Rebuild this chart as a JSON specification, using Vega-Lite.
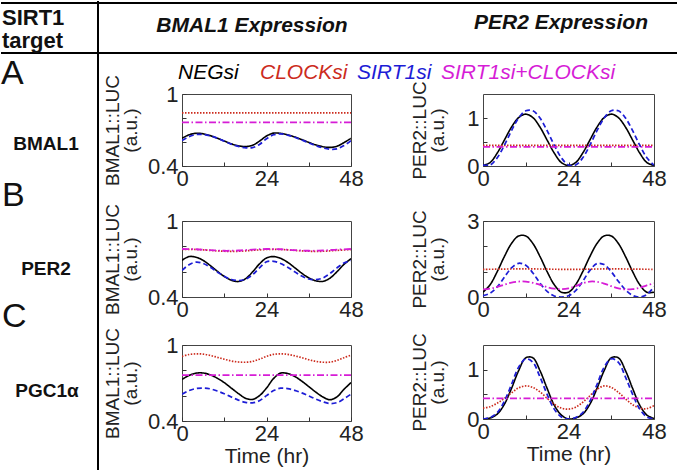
{
  "$schema": "https://vega.github.io/schema/vega-lite/v6.json",
  "padding": 0,
  "config": {
    "font": "Liberation Sans",
    "view": {"stroke": null},
    "axis": {"grid": false, "domain": false, "tickSize": -4, "tickColor": "#333", "tickWidth": 1, "labelFontSize": 22, "labelColor": "#222", "labelFlush": false, "labelOverlap": false, "titleFontSize": 19, "titleFontWeight": "normal", "titleColor": "#222", "titleLineHeight": 18},
    "axisX": {"labelPadding": 6},
    "axisY": {"labelPadding": 8}
  },
  "datasets": {
    "AL": [
      {"s":"NEGsi","t":0,"v":0.631},{"s":"NEGsi","t":2,"v":0.660},{"s":"NEGsi","t":4,"v":0.673},{"s":"NEGsi","t":6,"v":0.668},{"s":"NEGsi","t":8,"v":0.653},{"s":"NEGsi","t":10,"v":0.632},{"s":"NEGsi","t":12,"v":0.608},{"s":"NEGsi","t":14,"v":0.585},{"s":"NEGsi","t":16,"v":0.568},{"s":"NEGsi","t":18,"v":0.562},{"s":"NEGsi","t":20,"v":0.572},{"s":"NEGsi","t":22,"v":0.607},{"s":"NEGsi","t":24,"v":0.650},{"s":"NEGsi","t":26,"v":0.674},{"s":"NEGsi","t":28,"v":0.672},{"s":"NEGsi","t":30,"v":0.660},{"s":"NEGsi","t":32,"v":0.642},{"s":"NEGsi","t":34,"v":0.620},{"s":"NEGsi","t":36,"v":0.597},{"s":"NEGsi","t":38,"v":0.576},{"s":"NEGsi","t":40,"v":0.561},{"s":"NEGsi","t":42,"v":0.555},{"s":"NEGsi","t":44,"v":0.565},{"s":"NEGsi","t":46,"v":0.595},{"s":"NEGsi","t":48,"v":0.631},
      {"s":"CLOCKsi","t":0,"v":0.843},{"s":"CLOCKsi","t":48,"v":0.843},
      {"s":"SIRT1si","t":0,"v":0.612},{"s":"SIRT1si","t":2,"v":0.645},{"s":"SIRT1si","t":4,"v":0.662},{"s":"SIRT1si","t":6,"v":0.663},{"s":"SIRT1si","t":8,"v":0.652},{"s":"SIRT1si","t":10,"v":0.632},{"s":"SIRT1si","t":12,"v":0.607},{"s":"SIRT1si","t":14,"v":0.582},{"s":"SIRT1si","t":16,"v":0.563},{"s":"SIRT1si","t":18,"v":0.552},{"s":"SIRT1si","t":20,"v":0.553},{"s":"SIRT1si","t":22,"v":0.580},{"s":"SIRT1si","t":24,"v":0.627},{"s":"SIRT1si","t":26,"v":0.660},{"s":"SIRT1si","t":28,"v":0.667},{"s":"SIRT1si","t":30,"v":0.658},{"s":"SIRT1si","t":32,"v":0.640},{"s":"SIRT1si","t":34,"v":0.617},{"s":"SIRT1si","t":36,"v":0.593},{"s":"SIRT1si","t":38,"v":0.570},{"s":"SIRT1si","t":40,"v":0.551},{"s":"SIRT1si","t":42,"v":0.540},{"s":"SIRT1si","t":44,"v":0.543},{"s":"SIRT1si","t":46,"v":0.570},{"s":"SIRT1si","t":48,"v":0.612},
      {"s":"SIRT1si+CLOCKsi","t":0,"v":0.764},{"s":"SIRT1si+CLOCKsi","t":48,"v":0.764}
    ],
    "AR": [
      {"s":"NEGsi","t":0,"v":0.01},{"s":"NEGsi","t":2,"v":0.072},{"s":"NEGsi","t":4,"v":0.27},{"s":"NEGsi","t":6,"v":0.54},{"s":"NEGsi","t":8,"v":0.81},{"s":"NEGsi","t":10,"v":1.008},{"s":"NEGsi","t":12,"v":1.08},{"s":"NEGsi","t":14,"v":1.008},{"s":"NEGsi","t":16,"v":0.81},{"s":"NEGsi","t":18,"v":0.54},{"s":"NEGsi","t":20,"v":0.27},{"s":"NEGsi","t":22,"v":0.072},{"s":"NEGsi","t":24,"v":0.01},{"s":"NEGsi","t":26,"v":0.072},{"s":"NEGsi","t":28,"v":0.27},{"s":"NEGsi","t":30,"v":0.54},{"s":"NEGsi","t":32,"v":0.81},{"s":"NEGsi","t":34,"v":1.008},{"s":"NEGsi","t":36,"v":1.08},{"s":"NEGsi","t":38,"v":1.008},{"s":"NEGsi","t":40,"v":0.81},{"s":"NEGsi","t":42,"v":0.54},{"s":"NEGsi","t":44,"v":0.27},{"s":"NEGsi","t":46,"v":0.072},{"s":"NEGsi","t":48,"v":0.01},
      {"s":"CLOCKsi","t":0,"v":0.43},{"s":"CLOCKsi","t":48,"v":0.43},
      {"s":"SIRT1si","t":0,"v":0.02},{"s":"SIRT1si","t":2,"v":0.02},{"s":"SIRT1si","t":4,"v":0.171},{"s":"SIRT1si","t":6,"v":0.433},{"s":"SIRT1si","t":8,"v":0.736},{"s":"SIRT1si","t":10,"v":0.999},{"s":"SIRT1si","t":12,"v":1.15},{"s":"SIRT1si","t":14,"v":1.15},{"s":"SIRT1si","t":16,"v":0.999},{"s":"SIRT1si","t":18,"v":0.736},{"s":"SIRT1si","t":20,"v":0.433},{"s":"SIRT1si","t":22,"v":0.171},{"s":"SIRT1si","t":24,"v":0.02},{"s":"SIRT1si","t":26,"v":0.02},{"s":"SIRT1si","t":28,"v":0.171},{"s":"SIRT1si","t":30,"v":0.433},{"s":"SIRT1si","t":32,"v":0.736},{"s":"SIRT1si","t":34,"v":0.999},{"s":"SIRT1si","t":36,"v":1.15},{"s":"SIRT1si","t":38,"v":1.15},{"s":"SIRT1si","t":40,"v":0.999},{"s":"SIRT1si","t":42,"v":0.736},{"s":"SIRT1si","t":44,"v":0.433},{"s":"SIRT1si","t":46,"v":0.171},{"s":"SIRT1si","t":48,"v":0.02},
      {"s":"SIRT1si+CLOCKsi","t":0,"v":0.40},{"s":"SIRT1si+CLOCKsi","t":48,"v":0.40}
    ],
    "BL": [
      {"s":"NEGsi","t":0,"v":0.690},{"s":"NEGsi","t":2,"v":0.719},{"s":"NEGsi","t":4,"v":0.714},{"s":"NEGsi","t":6,"v":0.689},{"s":"NEGsi","t":8,"v":0.649},{"s":"NEGsi","t":10,"v":0.604},{"s":"NEGsi","t":12,"v":0.562},{"s":"NEGsi","t":14,"v":0.533},{"s":"NEGsi","t":16,"v":0.522},{"s":"NEGsi","t":18,"v":0.543},{"s":"NEGsi","t":20,"v":0.597},{"s":"NEGsi","t":22,"v":0.661},{"s":"NEGsi","t":24,"v":0.708},{"s":"NEGsi","t":26,"v":0.719},{"s":"NEGsi","t":28,"v":0.705},{"s":"NEGsi","t":30,"v":0.674},{"s":"NEGsi","t":32,"v":0.632},{"s":"NEGsi","t":34,"v":0.588},{"s":"NEGsi","t":36,"v":0.551},{"s":"NEGsi","t":38,"v":0.528},{"s":"NEGsi","t":40,"v":0.523},{"s":"NEGsi","t":42,"v":0.548},{"s":"NEGsi","t":44,"v":0.599},{"s":"NEGsi","t":46,"v":0.657},{"s":"NEGsi","t":48,"v":0.703},
      {"s":"CLOCKsi","t":0,"v":0.775},{"s":"CLOCKsi","t":4,"v":0.775},{"s":"CLOCKsi","t":8,"v":0.768},{"s":"CLOCKsi","t":12,"v":0.761},{"s":"CLOCKsi","t":16,"v":0.761},{"s":"CLOCKsi","t":20,"v":0.768},{"s":"CLOCKsi","t":24,"v":0.775},{"s":"CLOCKsi","t":28,"v":0.775},{"s":"CLOCKsi","t":32,"v":0.768},{"s":"CLOCKsi","t":36,"v":0.761},{"s":"CLOCKsi","t":40,"v":0.761},{"s":"CLOCKsi","t":44,"v":0.768},{"s":"CLOCKsi","t":48,"v":0.775},
      {"s":"SIRT1si","t":0,"v":0.610},{"s":"SIRT1si","t":2,"v":0.655},{"s":"SIRT1si","t":4,"v":0.675},{"s":"SIRT1si","t":6,"v":0.665},{"s":"SIRT1si","t":8,"v":0.635},{"s":"SIRT1si","t":10,"v":0.598},{"s":"SIRT1si","t":12,"v":0.563},{"s":"SIRT1si","t":14,"v":0.538},{"s":"SIRT1si","t":16,"v":0.530},{"s":"SIRT1si","t":18,"v":0.540},{"s":"SIRT1si","t":20,"v":0.575},{"s":"SIRT1si","t":22,"v":0.630},{"s":"SIRT1si","t":24,"v":0.678},{"s":"SIRT1si","t":26,"v":0.682},{"s":"SIRT1si","t":28,"v":0.665},{"s":"SIRT1si","t":30,"v":0.635},{"s":"SIRT1si","t":32,"v":0.600},{"s":"SIRT1si","t":34,"v":0.565},{"s":"SIRT1si","t":36,"v":0.542},{"s":"SIRT1si","t":38,"v":0.537},{"s":"SIRT1si","t":40,"v":0.550},{"s":"SIRT1si","t":42,"v":0.585},{"s":"SIRT1si","t":44,"v":0.630},{"s":"SIRT1si","t":46,"v":0.668},{"s":"SIRT1si","t":48,"v":0.688},
      {"s":"SIRT1si+CLOCKsi","t":0,"v":0.779},{"s":"SIRT1si+CLOCKsi","t":4,"v":0.777},{"s":"SIRT1si+CLOCKsi","t":8,"v":0.770},{"s":"SIRT1si+CLOCKsi","t":12,"v":0.765},{"s":"SIRT1si+CLOCKsi","t":16,"v":0.767},{"s":"SIRT1si+CLOCKsi","t":20,"v":0.774},{"s":"SIRT1si+CLOCKsi","t":24,"v":0.779},{"s":"SIRT1si+CLOCKsi","t":28,"v":0.777},{"s":"SIRT1si+CLOCKsi","t":32,"v":0.770},{"s":"SIRT1si+CLOCKsi","t":36,"v":0.765},{"s":"SIRT1si+CLOCKsi","t":40,"v":0.767},{"s":"SIRT1si+CLOCKsi","t":44,"v":0.774},{"s":"SIRT1si+CLOCKsi","t":48,"v":0.779}
    ],
    "BR": [
      {"s":"NEGsi","t":0,"v":0.189},{"s":"NEGsi","t":2,"v":0.487},{"s":"NEGsi","t":4,"v":1.002},{"s":"NEGsi","t":6,"v":1.598},{"s":"NEGsi","t":8,"v":2.113},{"s":"NEGsi","t":10,"v":2.411},{"s":"NEGsi","t":12,"v":2.411},{"s":"NEGsi","t":14,"v":2.113},{"s":"NEGsi","t":16,"v":1.598},{"s":"NEGsi","t":18,"v":1.002},{"s":"NEGsi","t":20,"v":0.487},{"s":"NEGsi","t":22,"v":0.189},{"s":"NEGsi","t":24,"v":0.189},{"s":"NEGsi","t":26,"v":0.487},{"s":"NEGsi","t":28,"v":1.002},{"s":"NEGsi","t":30,"v":1.598},{"s":"NEGsi","t":32,"v":2.113},{"s":"NEGsi","t":34,"v":2.411},{"s":"NEGsi","t":36,"v":2.411},{"s":"NEGsi","t":38,"v":2.113},{"s":"NEGsi","t":40,"v":1.598},{"s":"NEGsi","t":42,"v":1.002},{"s":"NEGsi","t":44,"v":0.487},{"s":"NEGsi","t":46,"v":0.189},{"s":"NEGsi","t":48,"v":0.189},
      {"s":"CLOCKsi","t":0,"v":1.09},{"s":"CLOCKsi","t":12,"v":1.11},{"s":"CLOCKsi","t":24,"v":1.09},{"s":"CLOCKsi","t":36,"v":1.11},{"s":"CLOCKsi","t":48,"v":1.09},
      {"s":"SIRT1si","t":0,"v":0.05},{"s":"SIRT1si","t":2,"v":0.15},{"s":"SIRT1si","t":4,"v":0.40},{"s":"SIRT1si","t":6,"v":0.78},{"s":"SIRT1si","t":8,"v":1.15},{"s":"SIRT1si","t":10,"v":1.33},{"s":"SIRT1si","t":12,"v":1.25},{"s":"SIRT1si","t":14,"v":0.95},{"s":"SIRT1si","t":16,"v":0.55},{"s":"SIRT1si","t":18,"v":0.22},{"s":"SIRT1si","t":20,"v":0.04},{"s":"SIRT1si","t":22,"v":0.0},{"s":"SIRT1si","t":24,"v":0.05},{"s":"SIRT1si","t":26,"v":0.25},{"s":"SIRT1si","t":28,"v":0.62},{"s":"SIRT1si","t":30,"v":1.05},{"s":"SIRT1si","t":32,"v":1.32},{"s":"SIRT1si","t":34,"v":1.28},{"s":"SIRT1si","t":36,"v":1.0},{"s":"SIRT1si","t":38,"v":0.62},{"s":"SIRT1si","t":40,"v":0.28},{"s":"SIRT1si","t":42,"v":0.06},{"s":"SIRT1si","t":44,"v":0.0},{"s":"SIRT1si","t":46,"v":0.10},{"s":"SIRT1si","t":48,"v":0.40},
      {"s":"SIRT1si+CLOCKsi","t":0,"v":0.30},{"s":"SIRT1si+CLOCKsi","t":2,"v":0.33},{"s":"SIRT1si+CLOCKsi","t":4,"v":0.40},{"s":"SIRT1si+CLOCKsi","t":6,"v":0.49},{"s":"SIRT1si+CLOCKsi","t":8,"v":0.57},{"s":"SIRT1si+CLOCKsi","t":10,"v":0.61},{"s":"SIRT1si+CLOCKsi","t":12,"v":0.61},{"s":"SIRT1si+CLOCKsi","t":14,"v":0.56},{"s":"SIRT1si+CLOCKsi","t":16,"v":0.48},{"s":"SIRT1si+CLOCKsi","t":18,"v":0.39},{"s":"SIRT1si+CLOCKsi","t":20,"v":0.33},{"s":"SIRT1si+CLOCKsi","t":22,"v":0.31},{"s":"SIRT1si+CLOCKsi","t":24,"v":0.34},{"s":"SIRT1si+CLOCKsi","t":26,"v":0.43},{"s":"SIRT1si+CLOCKsi","t":28,"v":0.54},{"s":"SIRT1si+CLOCKsi","t":30,"v":0.61},{"s":"SIRT1si+CLOCKsi","t":32,"v":0.60},{"s":"SIRT1si+CLOCKsi","t":34,"v":0.53},{"s":"SIRT1si+CLOCKsi","t":36,"v":0.43},{"s":"SIRT1si+CLOCKsi","t":38,"v":0.34},{"s":"SIRT1si+CLOCKsi","t":40,"v":0.30},{"s":"SIRT1si+CLOCKsi","t":42,"v":0.31},{"s":"SIRT1si+CLOCKsi","t":44,"v":0.37},{"s":"SIRT1si+CLOCKsi","t":46,"v":0.46},{"s":"SIRT1si+CLOCKsi","t":48,"v":0.54}
    ],
    "CL": [
      {"s":"NEGsi","t":0,"v":0.728},{"s":"NEGsi","t":2,"v":0.760},{"s":"NEGsi","t":4,"v":0.778},{"s":"NEGsi","t":6,"v":0.779},{"s":"NEGsi","t":8,"v":0.765},{"s":"NEGsi","t":10,"v":0.738},{"s":"NEGsi","t":12,"v":0.703},{"s":"NEGsi","t":14,"v":0.660},{"s":"NEGsi","t":16,"v":0.617},{"s":"NEGsi","t":18,"v":0.580},{"s":"NEGsi","t":20,"v":0.570},{"s":"NEGsi","t":22,"v":0.600},{"s":"NEGsi","t":24,"v":0.660},{"s":"NEGsi","t":26,"v":0.735},{"s":"NEGsi","t":28,"v":0.778},{"s":"NEGsi","t":30,"v":0.775},{"s":"NEGsi","t":32,"v":0.752},{"s":"NEGsi","t":34,"v":0.715},{"s":"NEGsi","t":36,"v":0.672},{"s":"NEGsi","t":38,"v":0.628},{"s":"NEGsi","t":40,"v":0.590},{"s":"NEGsi","t":42,"v":0.568},{"s":"NEGsi","t":44,"v":0.590},{"s":"NEGsi","t":46,"v":0.650},{"s":"NEGsi","t":48,"v":0.703},
      {"s":"CLOCKsi","t":0,"v":0.910},{"s":"CLOCKsi","t":2,"v":0.925},{"s":"CLOCKsi","t":4,"v":0.930},{"s":"CLOCKsi","t":6,"v":0.928},{"s":"CLOCKsi","t":8,"v":0.918},{"s":"CLOCKsi","t":10,"v":0.903},{"s":"CLOCKsi","t":12,"v":0.888},{"s":"CLOCKsi","t":14,"v":0.874},{"s":"CLOCKsi","t":16,"v":0.866},{"s":"CLOCKsi","t":18,"v":0.864},{"s":"CLOCKsi","t":20,"v":0.870},{"s":"CLOCKsi","t":22,"v":0.888},{"s":"CLOCKsi","t":24,"v":0.910},{"s":"CLOCKsi","t":26,"v":0.926},{"s":"CLOCKsi","t":28,"v":0.930},{"s":"CLOCKsi","t":30,"v":0.926},{"s":"CLOCKsi","t":32,"v":0.915},{"s":"CLOCKsi","t":34,"v":0.900},{"s":"CLOCKsi","t":36,"v":0.884},{"s":"CLOCKsi","t":38,"v":0.871},{"s":"CLOCKsi","t":40,"v":0.864},{"s":"CLOCKsi","t":42,"v":0.865},{"s":"CLOCKsi","t":44,"v":0.878},{"s":"CLOCKsi","t":46,"v":0.900},{"s":"CLOCKsi","t":48,"v":0.920},
      {"s":"SIRT1si","t":0,"v":0.612},{"s":"SIRT1si","t":2,"v":0.640},{"s":"SIRT1si","t":4,"v":0.656},{"s":"SIRT1si","t":6,"v":0.660},{"s":"SIRT1si","t":8,"v":0.654},{"s":"SIRT1si","t":10,"v":0.637},{"s":"SIRT1si","t":12,"v":0.615},{"s":"SIRT1si","t":14,"v":0.590},{"s":"SIRT1si","t":16,"v":0.565},{"s":"SIRT1si","t":18,"v":0.547},{"s":"SIRT1si","t":20,"v":0.543},{"s":"SIRT1si","t":22,"v":0.560},{"s":"SIRT1si","t":24,"v":0.600},{"s":"SIRT1si","t":26,"v":0.640},{"s":"SIRT1si","t":28,"v":0.659},{"s":"SIRT1si","t":30,"v":0.656},{"s":"SIRT1si","t":32,"v":0.642},{"s":"SIRT1si","t":34,"v":0.622},{"s":"SIRT1si","t":36,"v":0.598},{"s":"SIRT1si","t":38,"v":0.573},{"s":"SIRT1si","t":40,"v":0.552},{"s":"SIRT1si","t":42,"v":0.538},{"s":"SIRT1si","t":44,"v":0.545},{"s":"SIRT1si","t":46,"v":0.575},{"s":"SIRT1si","t":48,"v":0.612},
      {"s":"SIRT1si+CLOCKsi","t":0,"v":0.762},{"s":"SIRT1si+CLOCKsi","t":48,"v":0.762}
    ],
    "CR": [
      {"s":"NEGsi","t":0,"v":0.0},{"s":"NEGsi","t":2,"v":0.02},{"s":"NEGsi","t":4,"v":0.10},{"s":"NEGsi","t":6,"v":0.30},{"s":"NEGsi","t":8,"v":0.62},{"s":"NEGsi","t":10,"v":0.98},{"s":"NEGsi","t":12,"v":1.24},{"s":"NEGsi","t":14,"v":1.24},{"s":"NEGsi","t":16,"v":0.98},{"s":"NEGsi","t":18,"v":0.62},{"s":"NEGsi","t":20,"v":0.28},{"s":"NEGsi","t":22,"v":0.08},{"s":"NEGsi","t":24,"v":0.0},{"s":"NEGsi","t":26,"v":0.02},{"s":"NEGsi","t":28,"v":0.10},{"s":"NEGsi","t":30,"v":0.30},{"s":"NEGsi","t":32,"v":0.62},{"s":"NEGsi","t":34,"v":0.98},{"s":"NEGsi","t":36,"v":1.24},{"s":"NEGsi","t":38,"v":1.24},{"s":"NEGsi","t":40,"v":0.98},{"s":"NEGsi","t":42,"v":0.62},{"s":"NEGsi","t":44,"v":0.28},{"s":"NEGsi","t":46,"v":0.08},{"s":"NEGsi","t":48,"v":0.01},
      {"s":"CLOCKsi","t":0,"v":0.22},{"s":"CLOCKsi","t":2,"v":0.25},{"s":"CLOCKsi","t":4,"v":0.32},{"s":"CLOCKsi","t":6,"v":0.42},{"s":"CLOCKsi","t":8,"v":0.53},{"s":"CLOCKsi","t":10,"v":0.63},{"s":"CLOCKsi","t":12,"v":0.67},{"s":"CLOCKsi","t":14,"v":0.64},{"s":"CLOCKsi","t":16,"v":0.55},{"s":"CLOCKsi","t":18,"v":0.42},{"s":"CLOCKsi","t":20,"v":0.30},{"s":"CLOCKsi","t":22,"v":0.22},{"s":"CLOCKsi","t":24,"v":0.20},{"s":"CLOCKsi","t":26,"v":0.24},{"s":"CLOCKsi","t":28,"v":0.34},{"s":"CLOCKsi","t":30,"v":0.47},{"s":"CLOCKsi","t":32,"v":0.60},{"s":"CLOCKsi","t":34,"v":0.67},{"s":"CLOCKsi","t":36,"v":0.64},{"s":"CLOCKsi","t":38,"v":0.54},{"s":"CLOCKsi","t":40,"v":0.41},{"s":"CLOCKsi","t":42,"v":0.29},{"s":"CLOCKsi","t":44,"v":0.22},{"s":"CLOCKsi","t":46,"v":0.21},{"s":"CLOCKsi","t":48,"v":0.27},
      {"s":"SIRT1si","t":0,"v":0.0},{"s":"SIRT1si","t":2,"v":0.03},{"s":"SIRT1si","t":4,"v":0.13},{"s":"SIRT1si","t":6,"v":0.36},{"s":"SIRT1si","t":8,"v":0.70},{"s":"SIRT1si","t":10,"v":1.05},{"s":"SIRT1si","t":12,"v":1.22},{"s":"SIRT1si","t":14,"v":1.15},{"s":"SIRT1si","t":16,"v":0.85},{"s":"SIRT1si","t":18,"v":0.50},{"s":"SIRT1si","t":20,"v":0.20},{"s":"SIRT1si","t":22,"v":0.04},{"s":"SIRT1si","t":24,"v":0.0},{"s":"SIRT1si","t":26,"v":0.03},{"s":"SIRT1si","t":28,"v":0.13},{"s":"SIRT1si","t":30,"v":0.36},{"s":"SIRT1si","t":32,"v":0.70},{"s":"SIRT1si","t":34,"v":1.05},{"s":"SIRT1si","t":36,"v":1.22},{"s":"SIRT1si","t":38,"v":1.15},{"s":"SIRT1si","t":40,"v":0.85},{"s":"SIRT1si","t":42,"v":0.50},{"s":"SIRT1si","t":44,"v":0.20},{"s":"SIRT1si","t":46,"v":0.04},{"s":"SIRT1si","t":48,"v":0.0},
      {"s":"SIRT1si+CLOCKsi","t":0,"v":0.42},{"s":"SIRT1si+CLOCKsi","t":48,"v":0.42}
    ]
  },
  "columns": 3,
  "spacing": {"row": 0, "column": 84},
  "bounds": "flush",
  "align": "each",
  "concat": [
    {
      "width": 97, "height": 93,
      "data": {"values": [{}]},
      "layer": [
        {"mark": {"type": "rule", "strokeWidth": 2, "color": "#000"}, "encoding": {"x": {"value": 0}, "x2": {"value": 677}, "y": {"value": 2}}},
        {"mark": {"type": "rule", "strokeWidth": 2, "color": "#000"}, "encoding": {"x": {"value": 0}, "x2": {"value": 677}, "y": {"value": 52}}},
        {"mark": {"type": "rule", "strokeWidth": 2, "color": "#000"}, "encoding": {"x": {"value": 97}, "y": {"value": 0}, "y2": {"value": 470}}},
        {"mark": {"type": "text", "text": "SIRT1", "fontWeight": "bold", "fontSize": 22, "align": "left", "baseline": "middle", "color": "#111"}, "encoding": {"x": {"value": 1}, "y": {"value": 17}}},
        {"mark": {"type": "text", "text": "target", "fontWeight": "bold", "fontSize": 22, "align": "left", "baseline": "middle", "color": "#111"}, "encoding": {"x": {"value": 1}, "y": {"value": 40}}},
        {"mark": {"type": "text", "text": "A", "fontSize": 34, "align": "left", "baseline": "middle", "color": "#111"}, "encoding": {"x": {"value": 0}, "y": {"value": 73}}}
      ]
    },
    {
      "width": 217, "height": 93,
      "data": {"values": [{}]},
      "layer": [
        {"mark": {"type": "text", "text": "BMAL1 Expression", "fontWeight": "bold", "fontStyle": "italic", "fontSize": 21, "align": "center", "baseline": "middle", "color": "#111"}, "encoding": {"x": {"value": 70}, "y": {"value": 25}}},
        {"mark": {"type": "text", "text": "NEGsi", "fontStyle": "italic", "fontSize": 21, "align": "left", "baseline": "middle"}, "encoding": {"x": {"value": -4}, "y": {"value": 72}, "color": {"datum": "NEGsi", "type": "nominal", "scale": {"domain": ["NEGsi", "CLOCKsi", "SIRT1si", "SIRT1si+CLOCKsi"], "range": ["#000000", "#cc2b1d", "#1d1dd6", "#d61dd6"]}, "legend": null}}},
        {"mark": {"type": "text", "text": "CLOCKsi", "fontStyle": "italic", "fontSize": 21, "align": "left", "baseline": "middle"}, "encoding": {"x": {"value": 78}, "y": {"value": 72}, "color": {"datum": "CLOCKsi", "type": "nominal", "scale": {"domain": ["NEGsi", "CLOCKsi", "SIRT1si", "SIRT1si+CLOCKsi"], "range": ["#000000", "#cc2b1d", "#1d1dd6", "#d61dd6"]}, "legend": null}}},
        {"mark": {"type": "text", "text": "SIRT1si", "fontStyle": "italic", "fontSize": 21, "align": "left", "baseline": "middle"}, "encoding": {"x": {"value": 175}, "y": {"value": 72}, "color": {"datum": "SIRT1si", "type": "nominal", "scale": {"domain": ["NEGsi", "CLOCKsi", "SIRT1si", "SIRT1si+CLOCKsi"], "range": ["#000000", "#cc2b1d", "#1d1dd6", "#d61dd6"]}, "legend": null}}},
        {"mark": {"type": "text", "text": "SIRT1si+CLOCKsi", "fontStyle": "italic", "fontSize": 21, "align": "left", "baseline": "middle"}, "encoding": {"x": {"value": 259}, "y": {"value": 72}, "color": {"datum": "SIRT1si+CLOCKsi", "type": "nominal", "scale": {"domain": ["NEGsi", "CLOCKsi", "SIRT1si", "SIRT1si+CLOCKsi"], "range": ["#000000", "#cc2b1d", "#1d1dd6", "#d61dd6"]}, "legend": null}}}
      ]
    },
    {
      "width": 195, "height": 93,
      "data": {"values": [{}]},
      "mark": {"type": "text", "text": "PER2 Expression", "fontWeight": "bold", "fontStyle": "italic", "fontSize": 21, "align": "center", "baseline": "middle", "color": "#111"},
      "encoding": {"x": {"value": 78}, "y": {"value": 22}}
    },
    {
      "width": 97, "height": 127,
      "data": {"values": [{}]},
      "layer": [
        {"mark": {"type": "text", "text": "BMAL1", "fontWeight": "bold", "fontSize": 19, "align": "center", "baseline": "middle", "color": "#111"}, "encoding": {"x": {"value": 45}, "y": {"value": 50}}},
        {"mark": {"type": "text", "text": "B", "fontSize": 34, "align": "left", "baseline": "middle", "color": "#111"}, "encoding": {"x": {"value": 1}, "y": {"value": 102}}}
      ]
    },
    {
      "width": 169, "height": 72,
      "data": {"name": "AL"},
      "view": {"stroke": "#444", "strokeWidth": 1},
      "mark": {"type": "line", "interpolate": "catmull-rom", "clip": true},
      "encoding": {
        "x": {"field": "t", "type": "quantitative", "scale": {"domain": [0, 48], "nice": false}, "axis": {"values": [0, 12, 24, 36, 48], "labelExpr": "datum.value % 24 === 0 ? datum.label : ''", "title": null}},
        "y": {"field": "v", "type": "quantitative", "scale": {"domain": [0.4, 1], "nice": false, "zero": false}, "axis": {"values": [0.4, 0.6, 0.8, 1], "labelExpr": "datum.value === 1 ? '1' : datum.value === 0.4 ? '0.4' : ''", "title": ["BMAL1::LUC", "(a.u.)"], "titlePadding": 7}},
        "color": {"field": "s", "type": "nominal", "scale": {"domain": ["NEGsi", "CLOCKsi", "SIRT1si", "SIRT1si+CLOCKsi"], "range": ["#000000", "#cc2b1d", "#1d1dd6", "#d61dd6"]}, "legend": null},
        "strokeDash": {"field": "s", "type": "nominal", "scale": {"domain": ["NEGsi", "CLOCKsi", "SIRT1si", "SIRT1si+CLOCKsi"], "range": [[1, 0], [1.5, 1.5], [5, 3], [7, 2.5, 1.5, 2.5]]}, "legend": null},
        "strokeWidth": {"field": "s", "type": "nominal", "scale": {"domain": ["NEGsi", "CLOCKsi", "SIRT1si", "SIRT1si+CLOCKsi"], "range": [1.6, 1.8, 1.8, 1.6]}, "legend": null}
      }
    },
    {
      "width": 171, "height": 72,
      "data": {"name": "AR"},
      "view": {"stroke": "#444", "strokeWidth": 1},
      "mark": {"type": "line", "interpolate": "catmull-rom", "clip": true},
      "encoding": {
        "x": {"field": "t", "type": "quantitative", "scale": {"domain": [0, 48], "nice": false}, "axis": {"values": [0, 12, 24, 36, 48], "labelExpr": "datum.value % 24 === 0 ? datum.label : ''", "title": null}},
        "y": {"field": "v", "type": "quantitative", "scale": {"domain": [0, 1.5], "nice": false, "zero": false}, "axis": {"values": [0, 0.5, 1], "labelExpr": "datum.value === 1 ? '1' : datum.value === 0 ? '0' : ''", "title": ["PER2::LUC", "(a.u.)"], "titlePadding": 19}},
        "color": {"field": "s", "type": "nominal", "scale": {"domain": ["NEGsi", "CLOCKsi", "SIRT1si", "SIRT1si+CLOCKsi"], "range": ["#000000", "#cc2b1d", "#1d1dd6", "#d61dd6"]}, "legend": null},
        "strokeDash": {"field": "s", "type": "nominal", "scale": {"domain": ["NEGsi", "CLOCKsi", "SIRT1si", "SIRT1si+CLOCKsi"], "range": [[1, 0], [1.5, 1.5], [5, 3], [7, 2.5, 1.5, 2.5]]}, "legend": null},
        "strokeWidth": {"field": "s", "type": "nominal", "scale": {"domain": ["NEGsi", "CLOCKsi", "SIRT1si", "SIRT1si+CLOCKsi"], "range": [1.6, 1.8, 1.8, 1.6]}, "legend": null}
      }
    },
    {
      "width": 97, "height": 124,
      "data": {"values": [{}]},
      "layer": [
        {"mark": {"type": "text", "text": "PER2", "fontWeight": "bold", "fontSize": 19, "align": "center", "baseline": "middle", "color": "#111"}, "encoding": {"x": {"value": 45}, "y": {"value": 48}}},
        {"mark": {"type": "text", "text": "C", "fontSize": 34, "align": "left", "baseline": "middle", "color": "#111"}, "encoding": {"x": {"value": 1}, "y": {"value": 96}}}
      ]
    },
    {
      "width": 169, "height": 76,
      "data": {"name": "BL"},
      "view": {"stroke": "#444", "strokeWidth": 1},
      "mark": {"type": "line", "interpolate": "catmull-rom", "clip": true},
      "encoding": {
        "x": {"field": "t", "type": "quantitative", "scale": {"domain": [0, 48], "nice": false}, "axis": {"values": [0, 12, 24, 36, 48], "labelExpr": "datum.value % 24 === 0 ? datum.label : ''", "title": null}},
        "y": {"field": "v", "type": "quantitative", "scale": {"domain": [0.4, 1], "nice": false, "zero": false}, "axis": {"values": [0.4, 0.6, 0.8, 1], "labelExpr": "datum.value === 1 ? '1' : datum.value === 0.4 ? '0.4' : ''", "title": ["BMAL1::LUC", "(a.u.)"], "titlePadding": 7}},
        "color": {"field": "s", "type": "nominal", "scale": {"domain": ["NEGsi", "CLOCKsi", "SIRT1si", "SIRT1si+CLOCKsi"], "range": ["#000000", "#cc2b1d", "#1d1dd6", "#d61dd6"]}, "legend": null},
        "strokeDash": {"field": "s", "type": "nominal", "scale": {"domain": ["NEGsi", "CLOCKsi", "SIRT1si", "SIRT1si+CLOCKsi"], "range": [[1, 0], [1.5, 1.5], [5, 3], [7, 2.5, 1.5, 2.5]]}, "legend": null},
        "strokeWidth": {"field": "s", "type": "nominal", "scale": {"domain": ["NEGsi", "CLOCKsi", "SIRT1si", "SIRT1si+CLOCKsi"], "range": [1.6, 1.8, 1.8, 1.6]}, "legend": null}
      }
    },
    {
      "width": 171, "height": 76,
      "data": {"name": "BR"},
      "view": {"stroke": "#444", "strokeWidth": 1},
      "mark": {"type": "line", "interpolate": "catmull-rom", "clip": true},
      "encoding": {
        "x": {"field": "t", "type": "quantitative", "scale": {"domain": [0, 48], "nice": false}, "axis": {"values": [0, 12, 24, 36, 48], "labelExpr": "datum.value % 24 === 0 ? datum.label : ''", "title": null}},
        "y": {"field": "v", "type": "quantitative", "scale": {"domain": [0, 3], "nice": false, "zero": false}, "axis": {"values": [0, 1, 2, 3], "labelExpr": "datum.value === 3 ? '3' : datum.value === 0 ? '0' : ''", "title": ["PER2::LUC", "(a.u.)"], "titlePadding": 19}},
        "color": {"field": "s", "type": "nominal", "scale": {"domain": ["NEGsi", "CLOCKsi", "SIRT1si", "SIRT1si+CLOCKsi"], "range": ["#000000", "#cc2b1d", "#1d1dd6", "#d61dd6"]}, "legend": null},
        "strokeDash": {"field": "s", "type": "nominal", "scale": {"domain": ["NEGsi", "CLOCKsi", "SIRT1si", "SIRT1si+CLOCKsi"], "range": [[1, 0], [1.5, 1.5], [5, 3], [7, 2.5, 1.5, 2.5]]}, "legend": null},
        "strokeWidth": {"field": "s", "type": "nominal", "scale": {"domain": ["NEGsi", "CLOCKsi", "SIRT1si", "SIRT1si+CLOCKsi"], "range": [1.6, 1.8, 1.8, 1.6]}, "legend": null}
      }
    },
    {
      "width": 97, "height": 126,
      "data": {"values": [{}]},
      "mark": {"type": "text", "text": "PGC1α", "fontWeight": "bold", "fontSize": 19, "align": "center", "baseline": "middle", "color": "#111"},
      "encoding": {"x": {"value": 46}, "y": {"value": 46}}
    },
    {
      "width": 169, "height": 76,
      "data": {"name": "CL"},
      "view": {"stroke": "#444", "strokeWidth": 1},
      "mark": {"type": "line", "interpolate": "catmull-rom", "clip": true},
      "encoding": {
        "x": {"field": "t", "type": "quantitative", "scale": {"domain": [0, 48], "nice": false}, "axis": {"values": [0, 12, 24, 36, 48], "labelExpr": "datum.value % 24 === 0 ? datum.label : ''", "title": "Time (hr)", "titleFontSize": 21, "titlePadding": 1}},
        "y": {"field": "v", "type": "quantitative", "scale": {"domain": [0.4, 1], "nice": false, "zero": false}, "axis": {"values": [0.4, 0.6, 0.8, 1], "labelExpr": "datum.value === 1 ? '1' : datum.value === 0.4 ? '0.4' : ''", "title": ["BMAL1::LUC", "(a.u.)"], "titlePadding": 7}},
        "color": {"field": "s", "type": "nominal", "scale": {"domain": ["NEGsi", "CLOCKsi", "SIRT1si", "SIRT1si+CLOCKsi"], "range": ["#000000", "#cc2b1d", "#1d1dd6", "#d61dd6"]}, "legend": null},
        "strokeDash": {"field": "s", "type": "nominal", "scale": {"domain": ["NEGsi", "CLOCKsi", "SIRT1si", "SIRT1si+CLOCKsi"], "range": [[1, 0], [1.5, 1.5], [5, 3], [7, 2.5, 1.5, 2.5]]}, "legend": null},
        "strokeWidth": {"field": "s", "type": "nominal", "scale": {"domain": ["NEGsi", "CLOCKsi", "SIRT1si", "SIRT1si+CLOCKsi"], "range": [1.6, 1.8, 1.8, 1.6]}, "legend": null}
      }
    },
    {
      "width": 171, "height": 74,
      "data": {"name": "CR"},
      "view": {"stroke": "#444", "strokeWidth": 1},
      "mark": {"type": "line", "interpolate": "catmull-rom", "clip": true},
      "encoding": {
        "x": {"field": "t", "type": "quantitative", "scale": {"domain": [0, 48], "nice": false}, "axis": {"values": [0, 12, 24, 36, 48], "labelExpr": "datum.value % 24 === 0 ? datum.label : ''", "title": "Time (hr)", "titleFontSize": 21, "titlePadding": 1}},
        "y": {"field": "v", "type": "quantitative", "scale": {"domain": [0, 1.5], "nice": false, "zero": false}, "axis": {"values": [0, 0.5, 1], "labelExpr": "datum.value === 1 ? '1' : datum.value === 0 ? '0' : ''", "title": ["PER2::LUC", "(a.u.)"], "titlePadding": 19}},
        "color": {"field": "s", "type": "nominal", "scale": {"domain": ["NEGsi", "CLOCKsi", "SIRT1si", "SIRT1si+CLOCKsi"], "range": ["#000000", "#cc2b1d", "#1d1dd6", "#d61dd6"]}, "legend": null},
        "strokeDash": {"field": "s", "type": "nominal", "scale": {"domain": ["NEGsi", "CLOCKsi", "SIRT1si", "SIRT1si+CLOCKsi"], "range": [[1, 0], [1.5, 1.5], [5, 3], [7, 2.5, 1.5, 2.5]]}, "legend": null},
        "strokeWidth": {"field": "s", "type": "nominal", "scale": {"domain": ["NEGsi", "CLOCKsi", "SIRT1si", "SIRT1si+CLOCKsi"], "range": [1.6, 1.8, 1.8, 1.6]}, "legend": null}
      }
    }
  ]
}
